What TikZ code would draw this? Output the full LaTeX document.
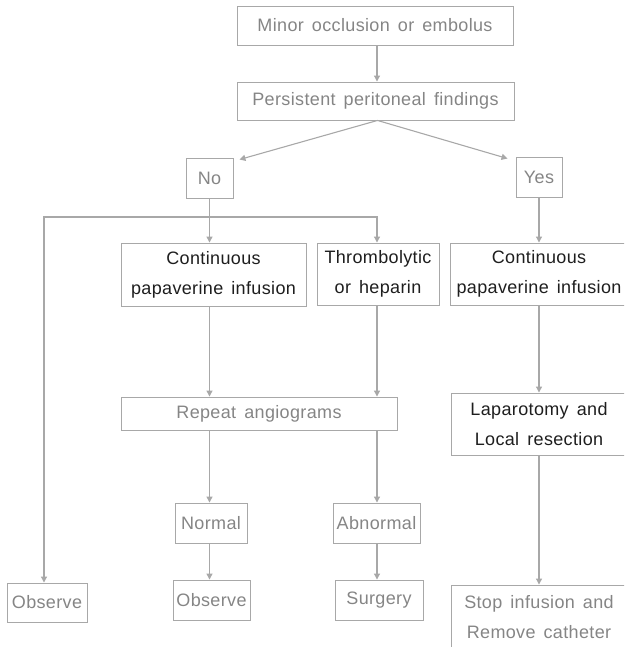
\documentclass[tikz,border=0pt]{standalone}
\usepackage{fontspec}
\setmainfont{Liberation Sans}
\newfontfamily\chartfont{Liberation Sans}[LetterSpace=2,WordSpace=1.5]
\usetikzlibrary{arrows.meta}
\definecolor{rulegray}{HTML}{A8A8A8}
\definecolor{softtext}{HTML}{858585}
\definecolor{darktext}{HTML}{1E1E1E}
\tikzset{
  box/.style={draw=rulegray, line width=0.9pt, inner sep=0pt, align=center,
    font=\chartfont\fontsize{18}{30}\selectfont},
  soft/.style={box, text=softtext},
  strong/.style={box, text=darktext},
  flow/.style={draw=rulegray, line width=1.1pt,
    -{Triangle[width=6pt,length=6pt]}}
}
\begin{document}
\begin{tikzpicture}[x=1pt,y=-1pt]
\useasboundingbox (0,0) rectangle (624,647);
\clip (0,0) rectangle (624,647);

% first two steps
\node[soft, minimum width=276pt, minimum height=39pt] (top) at (375,25.5) {Minor occlusion or embolus};
\node[soft, minimum width=277pt, minimum height=38pt] (pf) at (375.5,101) {Persistent peritoneal findings};

% decision
\node[soft, minimum width=47pt, minimum height=40pt] (no) at (209.5,178) {No};
\node[soft, minimum width=46pt, minimum height=40pt] (yes) at (539,177) {Yes};

% treatments
\node[strong, minimum width=185pt, minimum height=63pt] (cpl) at (213.5,274.5) {Continuous\\papaverine infusion};
\node[strong, minimum width=122pt, minimum height=62pt] (thr) at (378,274) {Thrombolytic\\or heparin};
\node[strong, minimum width=178pt, minimum height=62pt] (cpr) at (539,274) {Continuous\\papaverine infusion};

% follow-up
\node[soft, minimum width=276pt, minimum height=33pt] (rep) at (259,413.5) {Repeat angiograms};
\node[strong, minimum width=176pt, minimum height=62pt] (lap) at (539,424) {Laparotomy and\\Local resection};
\node[soft, minimum width=72pt, minimum height=40pt] (nor) at (211,523) {Normal};
\node[soft, minimum width=87pt, minimum height=40pt] (abn) at (376.5,523) {Abnormal};

% outcomes
\node[soft, minimum width=80pt, minimum height=39pt] (obsa) at (47,602.5) {Observe};
\node[soft, minimum width=77pt, minimum height=40pt] (obsb) at (211.5,600) {Observe};
\node[soft, minimum width=88pt, minimum height=40pt] (sur) at (379,600) {Surgery};
\node[soft, minimum width=176pt, minimum height=64pt] (stop) at (539,617) {Stop infusion and\\Remove catheter};

% connectors
\path (top.south) ++(2,0) coordinate (ta);
\draw[flow] (ta) -- (ta |- pf.north);
\draw[flow] (pf.south) ++(2,0) -- ([xshift=6pt,yshift=-2pt]no.north east);
\draw[flow] (pf.south) ++(2,0) -- ([xshift=-8pt,yshift=-2pt]yes.north west);

\coordinate (split) at (no.south |- 0,217);
\draw[flow] (no.south) -- (no.south |- cpl.north);
\draw[flow] (split) -| ([xshift=-3pt]obsa.north);
\draw[flow] (split) -| ([xshift=-1pt]thr.north);

\draw[flow] (yes.south) -- (yes.south |- cpr.north);
\draw[flow] (cpl.south -| no.south) -- (no.south |- rep.north);
\draw[flow] ([xshift=-1pt]thr.south) -- ([xshift=-1pt]thr.south |- rep.north);
\draw[flow] (cpr.south) -- (cpr.south |- lap.north);

\draw[flow] (rep.south -| no.south) -- (no.south |- nor.north);
\draw[flow] (no.south |- nor.south) -- (no.south |- obsb.north);
\draw[flow] ([xshift=-1pt]thr.south |- rep.south) -- ([xshift=-1pt]thr.south |- abn.north);
\draw[flow] ([xshift=-1pt]thr.south |- abn.south) -- ([xshift=-1pt]thr.south |- sur.north);
\draw[flow] (lap.south) -- (lap.south |- stop.north);
\end{tikzpicture}
\end{document}
